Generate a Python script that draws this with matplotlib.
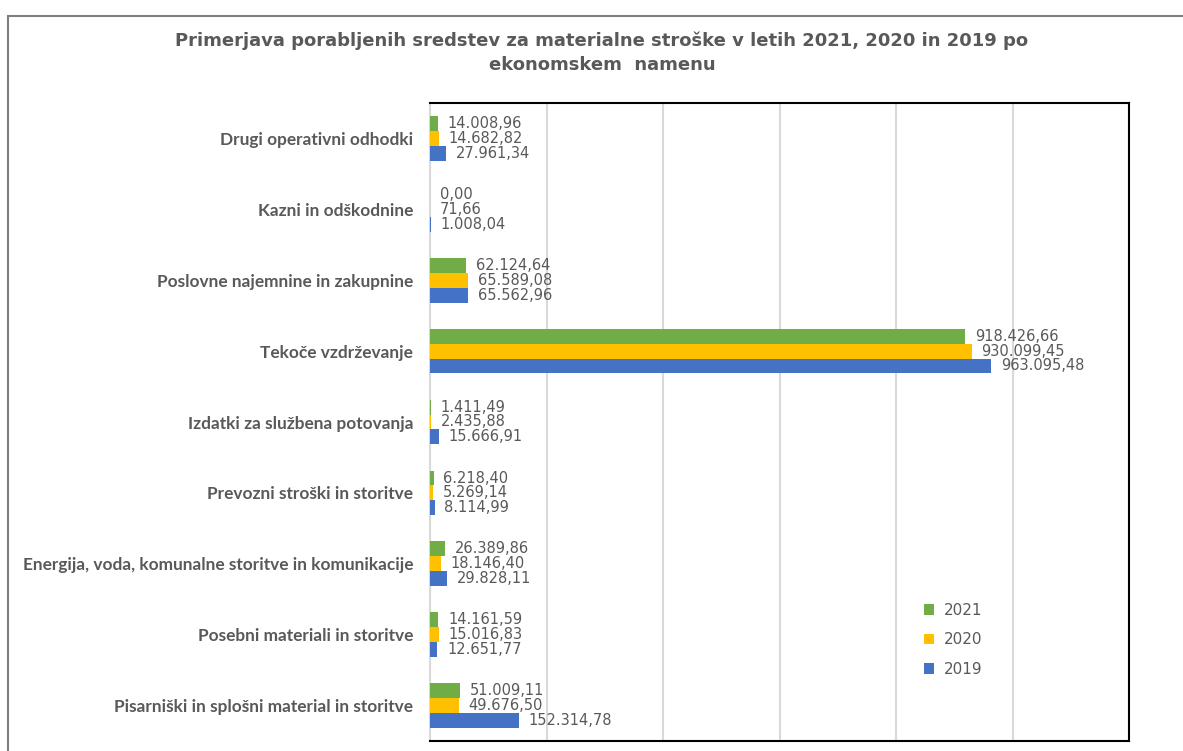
import numpy as np
import matplotlib
matplotlib.use("Agg")
from matplotlib import pyplot as plt
from matplotlib.patches import Rectangle

# data, bottom to top as drawn
categories = ["Pisarniški in splošni material in storitve",
              "Posebni materiali in storitve",
              "Energija, voda, komunalne storitve in komunikacije",
              "Prevozni stroški in storitve",
              "Izdatki za službena potovanja",
              "Tekoče vzdrževanje",
              "Poslovne najemnine in zakupnine",
              "Kazni in odškodnine",
              "Drugi operativni odhodki"]
v2021 = [51009.11, 14161.59, 26389.86, 6218.40, 1411.49, 918426.66, 62124.64, 0.00, 14008.96]
v2020 = [49676.50, 15016.83, 18146.40, 5269.14, 2435.88, 930099.45, 65589.08, 71.66, 14682.82]
v2019 = [152314.78, 12651.77, 29828.11, 8114.99, 15666.91, 963095.48, 65562.96, 1008.04, 27961.34]
years = ["2021", "2020", "2019"]
colors = ["#70AD47", "#FFC000", "#4472C4"]

title = "Primerjava porabljenih sredstev za materialne stroške v letih 2021, 2020 in 2019 po\nekonomskem  namenu"
gray = "#595959"


def eu_fmt(v):
    s = "{:,.2f}".format(v)
    return s.replace(",", "X").replace(".", ",").replace("X", ".")


fig = plt.figure(figsize=(11.83, 7.51), dpi=100)
ax = fig.add_axes([430/1183, 1-741/751, (1129-430)/1183, (741-103)/751])

# outer chart border
fig.patches.append(Rectangle((8/1183, -0.1), 1.1, 1.1-16/751, transform=fig.transFigure,
                             fill=False, edgecolor="#7f7f7f", linewidth=1.5))

y = np.arange(len(categories))
h = 0.21
series = [v2021, v2020, v2019]
for i, (vals, yr, c) in enumerate(zip(series, years, colors)):
    pos = y + h*(1-i)
    ax.barh(pos, vals, height=h, color=c, label=yr, zorder=3)
    for p, v in zip(pos, vals):
        ax.annotate(eu_fmt(v), (v, p), xytext=(7, 0), textcoords="offset points",
                    va="center", ha="left", fontsize=10.5, color=gray, zorder=4)

ax.set_xlim(0, 1200000)
ax.set_ylim(-0.5, len(categories)-0.5)
ax.set_xticks(np.arange(0, 1200001, 200000))
ax.set_xticklabels([])
ax.tick_params(axis="x", length=0)
ax.tick_params(axis="y", length=0, pad=12)
ax.grid(axis="x", color="#D9D9D9", linewidth=1.5, zorder=0)
ax.set_yticks(y)
ax.set_yticklabels(categories, fontsize=12.4, fontweight="bold", color=gray, family="Lato")

for s in ["top", "right", "bottom"]:
    ax.spines[s].set_color("black")
    ax.spines[s].set_linewidth(1.5)
ax.spines["left"].set_color("#D9D9D9")
ax.spines["left"].set_linewidth(1.5)

leg = ax.legend(loc="upper left", bbox_to_anchor=((910-430)/699, (741-589)/638), frameon=False,
                fontsize=11, labelcolor=gray, handlelength=0.7, handleheight=0.7,
                labelspacing=0.95, handletextpad=0.6)

fig.text(602/1183, 1-32/751, title, ha="center", va="top", fontsize=13, fontweight="bold",
         color=gray, linespacing=1.4)

fig.savefig("out.png", dpi=100)
